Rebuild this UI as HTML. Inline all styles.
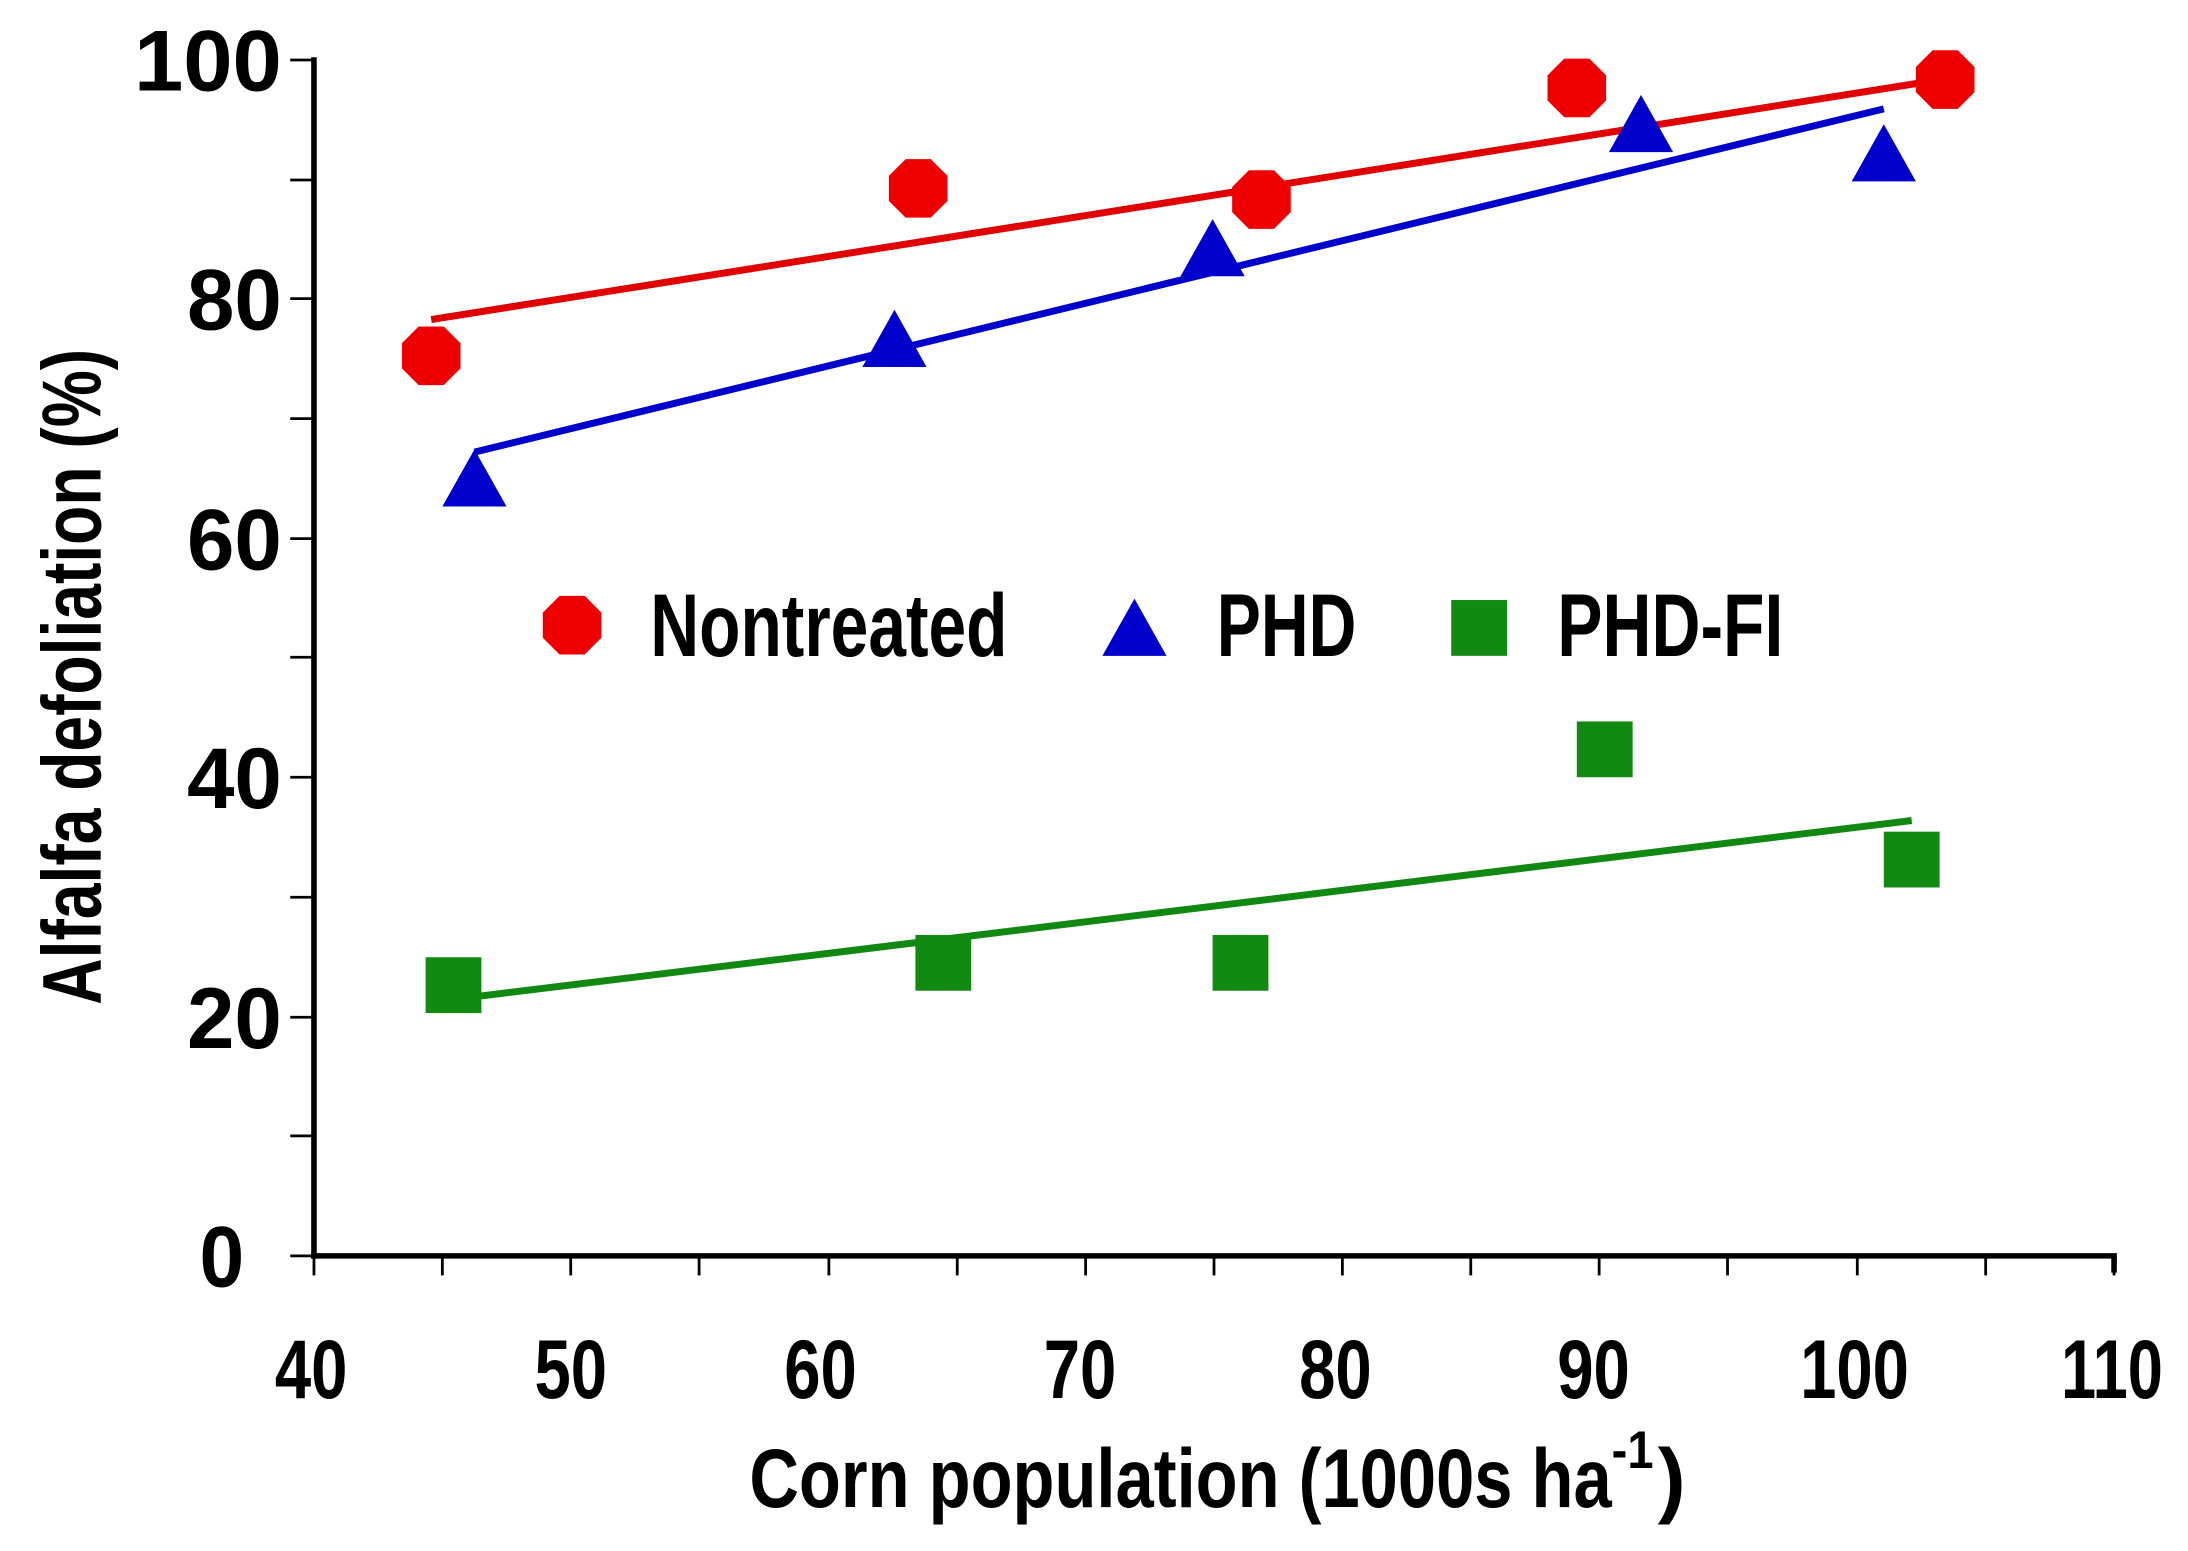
<!DOCTYPE html>
<html><head><style>html,body{margin:0;padding:0;background:#fff}svg{display:block}</style></head>
<body>
<svg width="2188" height="1551" viewBox="0 0 1568 1111.5" preserveAspectRatio="none" xmlns="http://www.w3.org/2000/svg" font-family="Liberation Sans, sans-serif" font-weight="bold">
<g stroke="#000" stroke-width="4" fill="none">
<line x1="225" y1="41" x2="225" y2="902"/>
<line x1="223" y1="900" x2="1517" y2="900"/>
<line x1="1515" y1="900" x2="1515" y2="912"/>
</g>
<g stroke="#000" stroke-width="2">
<line x1="208" y1="43" x2="225" y2="43"/><line x1="208" y1="214" x2="225" y2="214"/><line x1="208" y1="386" x2="225" y2="386"/><line x1="208" y1="557" x2="225" y2="557"/><line x1="208" y1="729" x2="225" y2="729"/><line x1="208" y1="900" x2="225" y2="900"/>
<line x1="208" y1="129" x2="225" y2="129"/><line x1="208" y1="300" x2="225" y2="300"/><line x1="208" y1="471" x2="225" y2="471"/><line x1="208" y1="643" x2="225" y2="643"/><line x1="208" y1="814" x2="225" y2="814"/>
<line x1="225" y1="900" x2="225" y2="914"/><line x1="317" y1="900" x2="317" y2="914"/><line x1="409" y1="900" x2="409" y2="914"/><line x1="501" y1="900" x2="501" y2="914"/><line x1="594" y1="900" x2="594" y2="914"/><line x1="686" y1="900" x2="686" y2="914"/><line x1="778" y1="900" x2="778" y2="914"/><line x1="870" y1="900" x2="870" y2="914"/><line x1="962" y1="900" x2="962" y2="914"/><line x1="1054" y1="900" x2="1054" y2="914"/><line x1="1146" y1="900" x2="1146" y2="914"/><line x1="1238" y1="900" x2="1238" y2="914"/><line x1="1331" y1="900" x2="1331" y2="914"/><line x1="1423" y1="900" x2="1423" y2="914"/><line x1="1515" y1="900" x2="1515" y2="914"/>
</g>
<g font-size="62" text-anchor="end">
<text x="202" y="65" textLength="106" lengthAdjust="spacingAndGlyphs">100</text>
<text x="202" y="236" textLength="68" lengthAdjust="spacingAndGlyphs">80</text>
<text x="202" y="408" textLength="68" lengthAdjust="spacingAndGlyphs">60</text>
<text x="202" y="579" textLength="68" lengthAdjust="spacingAndGlyphs">40</text>
<text x="202" y="751" textLength="68" lengthAdjust="spacingAndGlyphs">20</text>
<text x="175" y="922" textLength="32" lengthAdjust="spacingAndGlyphs">0</text>
</g>
<g font-size="60">
<text x="197" y="1002" textLength="52" lengthAdjust="spacingAndGlyphs">40</text>
<text x="383" y="1002" textLength="52" lengthAdjust="spacingAndGlyphs">50</text>
<text x="562" y="1002" textLength="52" lengthAdjust="spacingAndGlyphs">60</text>
<text x="748" y="1002" textLength="52" lengthAdjust="spacingAndGlyphs">70</text>
<text x="931" y="1002" textLength="52" lengthAdjust="spacingAndGlyphs">80</text>
<text x="1116" y="1002" textLength="52" lengthAdjust="spacingAndGlyphs">90</text>
<text x="1290" y="1002" textLength="78" lengthAdjust="spacingAndGlyphs">100</text>
<text x="1477" y="1002" textLength="73" lengthAdjust="spacingAndGlyphs">110</text>
</g>
<text x="537" y="1080" font-size="60" textLength="618" lengthAdjust="spacingAndGlyphs">Corn population (1000s ha</text>
<text x="1155" y="1052" font-size="38" textLength="30" lengthAdjust="spacingAndGlyphs">-1</text>
<text x="1188" y="1080" font-size="60" textLength="20" lengthAdjust="spacingAndGlyphs">)</text>
<text transform="translate(72,720) rotate(-90)" font-size="60" textLength="470" lengthAdjust="spacingAndGlyphs">Alfalfa defoliation (%)</text>
<g stroke-width="5">
<line x1="309" y1="229" x2="1385" y2="58" stroke="#e00000"/>
<line x1="340" y1="324" x2="1350" y2="78" stroke="#0000cc"/>
<line x1="310" y1="718" x2="1370" y2="588" stroke="#118811"/>
</g>
<defs>
<polygon id="oct" points="-9,-21 9,-21 21,-9 21,9 9,21 -9,21 -21,9 -21,-9" fill="#ee0000"/>
<polygon id="tri" points="0,-23 23,18 -23,18" fill="#0000cc"/>
<rect id="sq" x="-20" y="-20" width="40" height="40" fill="#128a12"/>
</defs>
<use href="#oct" x="309" y="255"/><use href="#oct" x="658" y="135"/><use href="#oct" x="904" y="143"/><use href="#oct" x="1130" y="63"/><use href="#oct" x="1394" y="57"/>
<use href="#tri" x="340" y="345"/><use href="#tri" x="641" y="245"/><use href="#tri" x="869" y="180"/><use href="#tri" x="1176" y="91"/><use href="#tri" x="1350" y="112"/>
<use href="#sq" x="325" y="706"/><use href="#sq" x="676" y="690"/><use href="#sq" x="889" y="690"/><use href="#sq" x="1150" y="537"/><use href="#sq" x="1370" y="616"/>
<use href="#oct" x="410" y="448"/><use href="#tri" x="813" y="452"/><use href="#sq" x="1060" y="450"/>
<g font-size="64">
<text x="466" y="470" textLength="256" lengthAdjust="spacingAndGlyphs">Nontreated</text>
<text x="872" y="470" textLength="100" lengthAdjust="spacingAndGlyphs">PHD</text>
<text x="1116" y="470" textLength="162" lengthAdjust="spacingAndGlyphs">PHD-FI</text>
</g>
</svg>
</body></html>
